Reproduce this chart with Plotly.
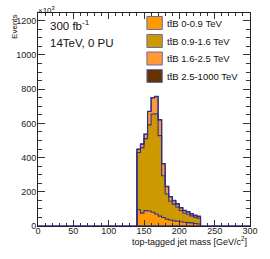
import numpy as np
import plotly.graph_objects as go

# ---------------- data (thousands of events per 5 GeV bin) ----------------
bin_low = [140, 145, 150, 155, 160, 165, 170, 175, 180, 185, 190, 195, 200, 205, 210, 215, 220, 225]
bin_width = 5
ttB_0_09 = [95, 75, 90, 88, 80, 70, 58, 50, 40, 35, 30, 28, 25, 22, 20, 18, 15, 12]
ttB_09_16 = [335, 383, 421, 503, 575, 586, 470, 244, 147, 110, 98, 83, 66, 54, 49, 41, 37, 34]
ttB_16_25 = [18, 20, 25, 78, 94, 100, 92, 69, 43, 25, 20, 18, 15, 14, 13, 12, 10, 10]
ttB_25_1000 = [2, 2, 2, 2, 2, 2, 2, 2, 2, 2, 2, 2, 2, 2, 2, 1, 1, 1]
series_names = ["tt\u0304B 0-0.9 TeV", "tt\u0304B 0.9-1.6 TeV", "tt\u0304B 1.6-2.5 TeV", "tt\u0304B 2.5-1000 TeV"]
x_ticks = [0, 50, 100, 150, 200, 250, 300]
y_ticks = [0, 200, 400, 600, 800, 1000, 1200]

series = [ttB_0_09, ttB_09_16, ttB_16_25, ttB_25_1000]
fill_colors = ["#FF9900", "#CC9900", "#FF9933", "#663300"]
outline = "#2e2e8e"

W, H = 270, 259
ML, MR, MT, MB = 38, 12, 13, 33
PW, PH = W - ML - MR, H - MT - MB


def fx(px):
    return (px - ML) / PW


def fy(py):
    return (H - MB - py) / PH


edges = list(bin_low) + [bin_low[-1] + bin_width]
xs = [edges[0]] + edges
cum = np.cumsum(np.array(series, dtype=float), axis=0)

fig = go.Figure()
for i, c in enumerate(cum):
    ys = [0] + list(c) + [0]
    fig.add_trace(go.Scatter(x=xs, y=ys, mode="lines", line=dict(shape="hv", width=0),
                             fill="tozeroy" if i == 0 else "tonexty", fillcolor=fill_colors[i],
                             hoverinfo="skip", showlegend=False))
for i, c in enumerate(cum):
    ys = [0] + list(c) + [0]
    fig.add_trace(go.Scatter(x=xs, y=ys, mode="lines", line=dict(shape="hv", width=1.1, color=outline),
                             hoverinfo="skip", showlegend=False))

axis_common = dict(showline=True, linecolor="#222", linewidth=1, mirror="ticks", ticks="inside",
                   tickcolor="#333", showgrid=False, zeroline=False,
                   tickfont=dict(family="Liberation Sans", size=9, color="#222"))
fig.update_xaxes(range=[0, 300], tickvals=x_ticks, ticklen=6, ticklabelstandoff=-4,
                 minor=dict(dtick=10, ticklen=3, ticks="inside", tickcolor="#333"), **axis_common)
fig.update_yaxes(range=[0, 1245], tickvals=y_ticks, ticklen=7, ticklabelstandoff=-1,
                 minor=dict(dtick=50, ticklen=4, ticks="inside", tickcolor="#333"), **axis_common)

shapes = [dict(type="line", xref="paper", yref="y", x0=0, x1=1, y0=0, y1=0,
               line=dict(color=outline, width=1.5))]
annotations = []
font = "Liberation Sans"
row_y = [23, 41, 58.5, 76]
for name, col, ry in zip(series_names, fill_colors, row_y):
    shapes.append(dict(type="rect", xref="paper", yref="paper", x0=fx(151), x1=fx(167),
                       y0=fy(ry + 6.5), y1=fy(ry - 6.5), fillcolor=col,
                       line=dict(color="#6a6ab0", width=1)))
    annotations.append(dict(text=name, xref="paper", yref="paper", x=fx(170), y=fy(ry),
                            xanchor="left", yanchor="middle", showarrow=False,
                            font=dict(family=font, size=9.5, color="#111")))

annotations += [
    dict(text="300 fb<sup>-1</sup>", xref="paper", yref="paper", x=fx(48), y=fy(25),
         xanchor="left", yanchor="middle", showarrow=False, font=dict(family=font, size=11.5, color="#111")),
    dict(text="14TeV, 0 PU", xref="paper", yref="paper", x=fx(48), y=fy(43),
         xanchor="left", yanchor="middle", showarrow=False, font=dict(family=font, size=11.5, color="#111")),
    dict(text="Events", xref="paper", yref="paper", x=fx(13), y=fy(13), textangle=-90,
         xanchor="center", yanchor="top", showarrow=False, font=dict(family=font, size=8, color="#111")),
    dict(text="\u00d710<sup>3</sup>", xref="paper", yref="paper", x=fx(36), y=fy(10),
         xanchor="left", yanchor="middle", showarrow=False, font=dict(family=font, size=8, color="#111")),
    dict(text="top-tagged jet mass [GeV/c<sup>2</sup>]", xref="paper", yref="paper", x=fx(257), y=fy(241),
         xanchor="right", yanchor="middle", showarrow=False, font=dict(family=font, size=9, color="#111")),
]

fig.update_layout(width=W, height=H, margin=dict(l=ML, r=MR, t=MT, b=MB, pad=0),
                  paper_bgcolor="white", plot_bgcolor="white", showlegend=False,
                  shapes=shapes, annotations=annotations)
fig.write_html("out.html", config={"displayModeBar": False},
               post_script="document.body.style.margin='0';document.body.style.overflow='hidden';")
